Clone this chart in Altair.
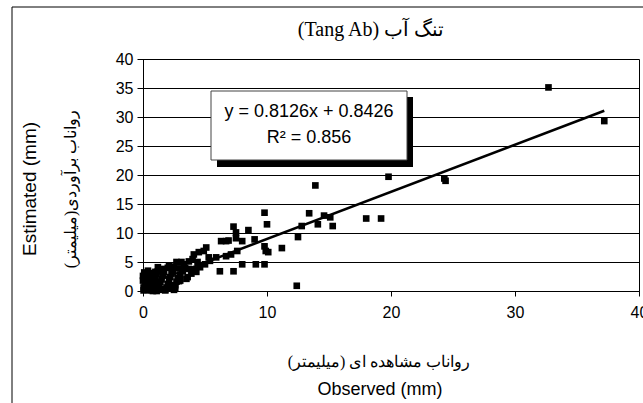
import altair as alt
import pandas as pd

# Observed (x) and Estimated (y) runoff values
obs_x = [32.7, 37.2, 19.8, 24.4, 24.3, 13.9, 13.4, 14.6, 15.1, 12.8, 14.1, 15.3, 18.0, 19.2,
         12.5, 11.2, 12.4, 9.8, 7.3, 8.5, 10.0, 7.5, 7.5, 6.3, 6.7, 6.9, 9.0, 9.8, 10.1, 9.9,
         6.2, 7.3, 8.0, 9.1, 9.8, 7.6, 4.9, 5.1, 4.1, 4.5, 5.3, 5.9, 6.7, 7.1, 3.7, 3.1, 2.7,
         2.1, 1.5, 1.0, 0.5, 3.7, 4.3, 3.5, 2.9, 2.1, 1.5, 8.0,
         0.05, 0.1, 0.15, 0.2, 0.2, 0.25, 0.3, 0.1, 0.4, 0.5, 0.5, 0.6, 0.6, 0.7, 0.8, 0.9,
         1.0, 1.0, 1.1, 1.2, 1.3, 1.3, 1.4, 1.5, 1.6, 1.7, 1.8, 1.9, 2.0, 2.1, 2.2, 2.3, 2.4,
         2.5, 2.6, 2.7, 2.8, 3.0, 3.2, 3.4, 2.0, 1.5, 0.3, 0.6, 1.1, 0.0, 0.0, 0.05, 3.6, 3.9,
         4.2, 4.6, 5.0, 5.4, 2.3, 2.9, 3.3, 1.2, 0.4, 4.0, 4.4, 3.0, 2.5, 1.8, 0.8, 2.6]
est_y = [35.1, 29.3, 19.7, 19.0, 19.4, 18.2, 13.4, 13.0, 12.7, 11.2, 11.5, 11.2, 12.5, 12.5,
         9.3, 7.4, 0.9, 13.5, 11.1, 10.5, 11.5, 10.1, 9.1, 8.6, 8.6, 8.7, 8.9, 7.7, 6.7, 6.9,
         3.4, 3.4, 4.6, 4.6, 4.6, 6.9, 6.9, 7.5, 6.3, 6.7, 5.8, 5.8, 6.0, 6.3, 5.1, 5.0, 5.0,
         4.3, 3.8, 3.3, 2.4, 3.8, 3.3, 2.1, 1.7, 0.9, 0.3, 8.6,
         0.1, 0.5, 1.0, 1.5, 2.0, 2.6, 3.0, 3.2, 0.2, 0.8, 1.3, 1.9, 2.5, 3.1, 0.4, 1.1,
         1.7, 2.3, 2.9, 3.4, 0.2, 0.9, 1.5, 2.0, 2.7, 3.2, 0.1, 0.6, 1.2, 1.8, 2.4, 3.0, 3.6,
         4.2, 1.0, 1.6, 2.2, 2.8, 3.4, 4.0, 4.0, 3.7, 0.3, 0.1, 0.0, 1.8, 2.6, 0.6, 2.4, 3.0,
         3.6, 4.1, 4.6, 5.2, 0.4, 3.9, 4.6, 4.1, 3.5, 5.5, 5.0, 1.8, 0.2, 0.3, 0.0, 0.5]

# Trendline from the printed equation
slope = 0.8126
intercept = 0.8426
trend_x = [0.0, 37.2]

y_ticks = [0, 5, 10, 15, 20, 25, 30, 35, 40]
x_ticks = [0, 10, 20, 30, 40]

title_text = "(Tang Ab) تنگ آب"
x_title_fa = "رواناب مشاهده ای (میلیمتر)\u200f"
x_title_en = "Observed (mm)"
y_title_en = "Estimated (mm)"
y_title_fa = "رواناب برآوردی(میلیمتر)\u200f"
eq_text = "y = 0.8126x + 0.8426"
r2_text = "R² = 0.856"

W, H = 496, 232
SANS = "Liberation Sans"
SERIF = "Liberation Serif"

pts = pd.DataFrame({"obs": obs_x, "est": est_y})
trend = pd.DataFrame({"obs": trend_x})
grid = pd.DataFrame({"g": y_ticks})

xs = alt.Scale(domain=[0, 40], nice=False, zero=False)
ys = alt.Scale(domain=[0, 40], nice=False, zero=False)

x_axis = alt.Axis(values=x_ticks, grid=False, title=None, tickSize=5, labelPadding=8,
                  labelFontSize=16, labelFont=SANS, labelColor="black", labelOverlap=False,
                  domainColor="black", tickColor="black", labelFlush=False)
y_axis = alt.Axis(values=y_ticks, grid=False,
                  title=None, tickSize=6, labelPadding=4, labelFontSize=16, labelFont=SANS,
                  labelOverlap=False, labelFlush=False,
                  labelColor="black", domainColor="black", tickColor="black")

one = alt.Data(values=[{"a": 1}])

frame = alt.Chart(one).mark_rect(fill="white", fillOpacity=0, stroke="black", strokeWidth=1).encode(
    x=alt.value(-131), x2=alt.value(560), y=alt.value(-52), y2=alt.value(400)
)

gridlines = alt.Chart(grid).mark_rule(color="black", strokeWidth=1, yOffset=0.5).encode(
    y=alt.Y("g:Q", scale=ys, axis=y_axis),
    x=alt.value(0), x2=alt.value(W),
)

points = alt.Chart(pts).mark_square(size=44, color="black", opacity=1).encode(
    x=alt.X("obs:Q", scale=xs, axis=x_axis),
    y=alt.Y("est:Q", scale=ys, axis=y_axis),
)

line = alt.Chart(trend).transform_calculate(
    est=f"{slope} * datum.obs + {intercept}"
).mark_line(color="black", strokeWidth=2.5).encode(
    x=alt.X("obs:Q", scale=xs, axis=x_axis), y=alt.Y("est:Q", scale=ys, axis=y_axis)
)

shadow = alt.Chart(one).mark_rect(color="black").encode(
    x=alt.value(74), x2=alt.value(270), y=alt.value(38), y2=alt.value(108)
)
box = alt.Chart(one).mark_rect(fill="white", stroke="#444444", strokeWidth=1).encode(
    x=alt.value(68), x2=alt.value(264), y=alt.value(32), y2=alt.value(101)
)

def label(text, x, y, size, font=SANS, angle=0):
    kw = dict(text=text, fontSize=size, font=font, color="black", align="center", baseline="middle")
    if angle:
        kw["angle"] = angle
    return alt.Chart(one).mark_text(**kw).encode(x=alt.value(x), y=alt.value(y))

texts = [
    label(eq_text, 166, 53, 18),
    label(r2_text, 166, 79, 18),
    label(title_text, 228, -29, 20, SERIF),
    label(x_title_fa, 236, 303, 16, SERIF),
    label(x_title_en, 237, 331, 18),
    label(y_title_en, -113, 130, 19, SANS, 270),
    label(y_title_fa, -72, 130, 16, SERIF, 270),
]

chart = alt.layer(frame, gridlines, points, line, shadow, box, *texts).properties(
    width=W, height=H,
    autosize=alt.AutoSizeParams(type="none"),
    padding={"left": 143, "top": 59, "right": 4, "bottom": 112},
    background="white",
).configure_view(stroke="black", strokeWidth=1)

chart.save("out.html", embed_options={"renderer": "svg", "actions": False})
